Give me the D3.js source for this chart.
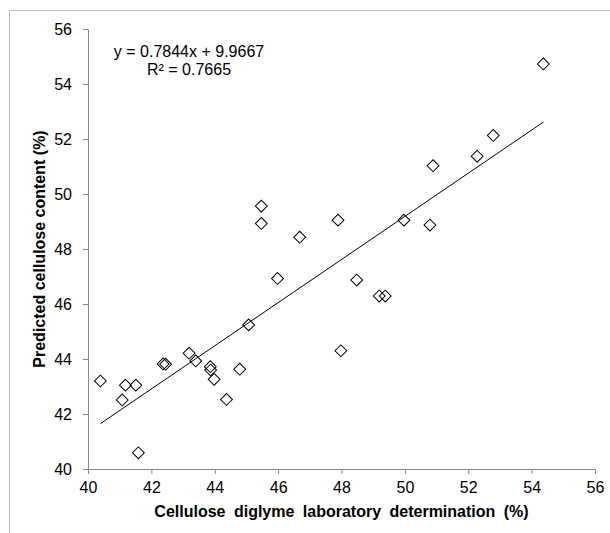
<!DOCTYPE html>
<html>
<head>
<meta charset="utf-8">
<script src="https://cdn.jsdelivr.net/npm/d3@7"></script>
<style>
  body { margin: 0; background: #fff; }
  text { font-family: "Liberation Sans", Arial, sans-serif; }
</style>
</head>
<body>
<svg id="chart" width="610" height="533"></svg>
<script>
// lab determination (x) vs predicted (y)
let labValues = [40.39, 41.08, 41.18, 41.51, 41.59, 42.37, 42.45, 43.19, 43.40, 43.86,
  43.87, 43.98, 44.37, 44.79, 45.07, 45.98, 45.47, 45.47, 46.68, 47.89,
  47.98, 48.48, 49.19, 49.38, 49.97, 50.79, 50.89, 52.28, 52.79, 54.37];
let predValues = [43.20, 42.51, 43.05, 43.05, 40.59, 43.82, 43.81, 44.21, 43.93, 43.72,
  43.60, 43.26, 42.53, 43.63, 45.24, 46.93, 49.56, 48.93, 48.43, 49.05,
  44.30, 46.87, 46.29, 46.29, 49.05, 48.87, 51.03, 51.37, 52.13, 54.73];
let xTicks = [40, 42, 44, 46, 48, 50, 52, 54, 56];
let yTicks = [40, 42, 44, 46, 48, 50, 52, 54, 56];
let slope = 0.7844;
let intercept = 9.9667;
let eqText = 'y = 0.7844x + 9.9667';
let r2Text = 'R² = 0.7665';

let svg = d3.select('#chart');

// outer chart frame, runs off the right and bottom
svg.append('rect')
  .attr('x', 9.5).attr('y', 10.5)
  .attr('width', 700).attr('height', 600)
  .attr('fill', 'none').attr('stroke', '#bdbdbd');

let plotLeft = 88, plotRight = 595, plotTop = 29, plotBottom = 469;

let xScale = d3.scaleLinear().domain([40, 56]).range([plotLeft, plotRight]);
let yScale = d3.scaleLinear().domain([40, 56]).range([plotBottom, plotTop]);

let xAxis = d3.axisBottom(xScale).tickValues(xTicks).tickSizeInner(5).tickSizeOuter(0).tickPadding(8);
let yAxis = d3.axisLeft(yScale).tickValues(yTicks).tickSizeInner(5).tickSizeOuter(0).tickPadding(11);

let gX = svg.append('g').attr('transform', `translate(0, ${plotBottom})`).call(xAxis);
let gY = svg.append('g').attr('transform', `translate(${plotLeft}, 0)`).call(yAxis);

[gX, gY].forEach(g => {
  g.select('.domain').attr('stroke', '#888');
  g.selectAll('.tick line').attr('stroke', '#888');
  g.selectAll('.tick text')
    .attr('fill', '#000')
    .style('font-size', '16px')
    .style('font-family', '"Liberation Sans", Arial, sans-serif');
});

// trend line over the data range
let xMin = d3.min(labValues), xMax = d3.max(labValues);
svg.append('line')
  .attr('x1', xScale(xMin)).attr('y1', yScale(slope * xMin + intercept))
  .attr('x2', xScale(xMax)).attr('y2', yScale(slope * xMax + intercept))
  .attr('stroke', '#000').attr('stroke-width', 1);

// diamond markers
let diamond = d3.symbol().type(d3.symbolSquare).size(70);
svg.selectAll('path.pt')
  .data(labValues)
  .enter().append('path')
  .attr('class', 'pt')
  .attr('d', diamond)
  .attr('transform', (d, i) => `translate(${xScale(d)}, ${yScale(predValues[i])}) rotate(45)`)
  .attr('fill', 'none')
  .attr('stroke', '#000')
  .attr('stroke-width', 1);

// equation
svg.append('text')
  .attr('x', 189).attr('y', 57)
  .attr('text-anchor', 'middle')
  .style('font-size', '16px')
  .text(eqText);
svg.append('text')
  .attr('x', 189).attr('y', 75)
  .attr('text-anchor', 'middle')
  .style('font-size', '16px')
  .text(r2Text);

// axis titles
svg.append('text')
  .attr('x', (plotLeft + plotRight) / 2).attr('y', 517)
  .attr('text-anchor', 'middle')
  .style('font-size', '16px').style('font-weight', 'bold')
  .style('word-spacing', '4px')
  .text('Cellulose diglyme laboratory determination (%)');
svg.append('text')
  .attr('transform', `translate(45, ${(plotTop + plotBottom) / 2}) rotate(-90)`)
  .attr('text-anchor', 'middle')
  .style('font-size', '16px').style('font-weight', 'bold')
  .text('Predicted cellulose content (%)');
</script>
</body>
</html>
